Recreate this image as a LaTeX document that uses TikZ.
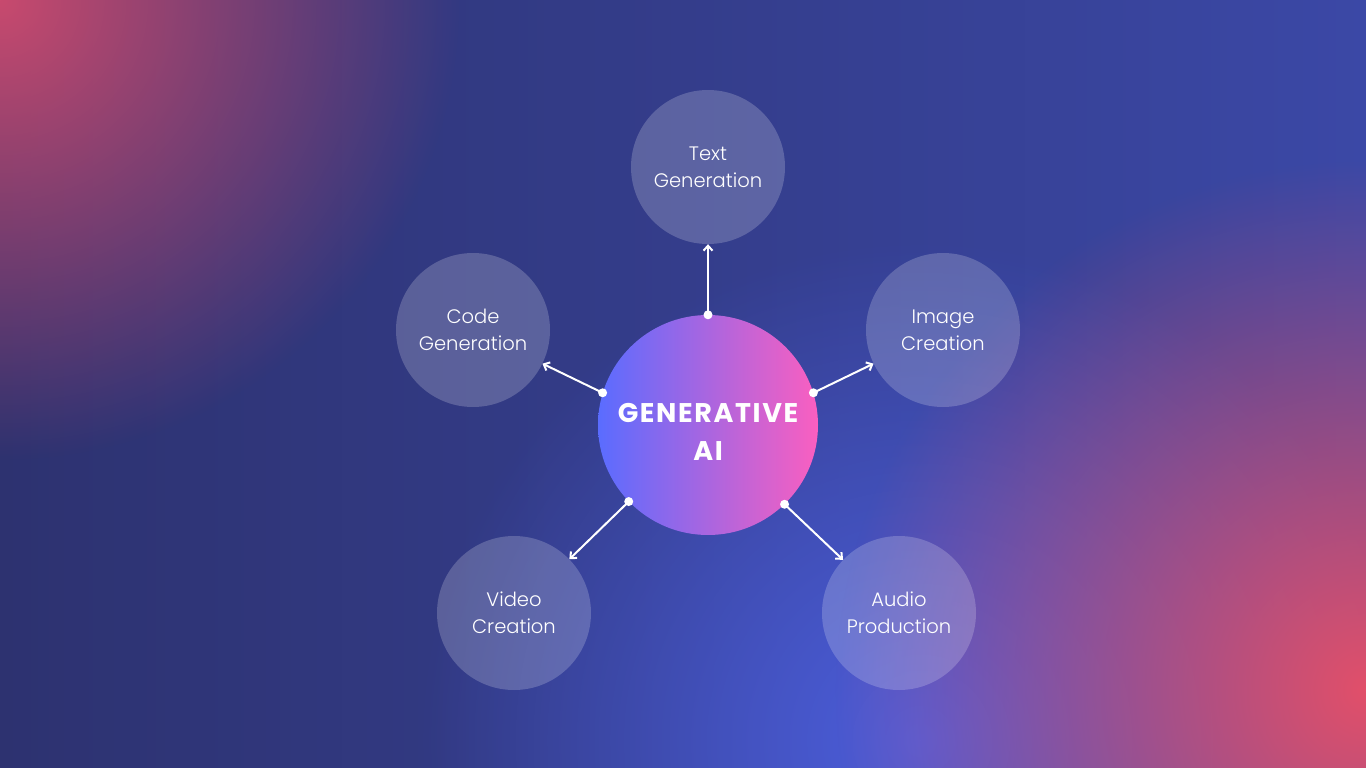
\documentclass[tikz,border=0pt]{standalone}
\usepackage{fontspec}
\setmainfont{Poppins}[UprightFont=* Light, BoldFont=* Bold]
\newfontfamily\titlefont{Poppins}[UprightFont=* Bold, LetterSpace=6]
\usetikzlibrary{arrows.meta,fadings}
\tikzfading[name=blobfade, inner color=transparent!0, outer color=transparent!100]
\definecolor{navy}{HTML}{2D3270}
\definecolor{bgright}{HTML}{3B48A6}
\definecolor{glowblue}{HTML}{4C5EDC}
\definecolor{pinkR}{HTML}{E2506A}
\definecolor{pinkL}{HTML}{C84A6E}
\definecolor{hubL}{HTML}{5A6CFF}
\definecolor{hubR}{HTML}{FA5FC0}
\begin{document}
\begin{tikzpicture}[x=1pt,y=-1pt,
  bubble/.style={circle, fill=white, fill opacity=0.2, text opacity=1, minimum size=154pt, inner sep=0pt, text=white, align=center, font=\fontsize{19.5}{27}\selectfont},
  hub/.style={circle, minimum size=220pt, inner sep=0pt, left color=hubL, right color=hubR},
  hubtext/.style={text=white, align=center, inner sep=0pt, font=\titlefont\fontsize{27}{38}\selectfont},
  link/.style={white, line width=2pt, line cap=round, -{Straight Barb[length=5pt,width=9pt]}},
  dot/.style={circle, fill=white, inner sep=0pt, minimum size=9pt}]
\useasboundingbox (0,0) rectangle (1366,768);
\begin{scope}
\clip (0,0) rectangle (1366,768);
\shade[left color=navy, right color=bgright] (0,0) rectangle (1366,768);
\fill[glowblue, path fading=blobfade] (920,740) circle (500);
\fill[pinkR, path fading=blobfade] (1366,690) circle (530);
\fill[pinkL, path fading=blobfade] (0,0) circle (460);
\end{scope}
\node[hub] (gen) at (708,425) {};
\node[hubtext] (gentext) at (708,432) {GENERATIVE\\AI};
\node[bubble] (text) at (708,167) {Text\\Generation};
\node[bubble] (code) at (473,330) {Code\\Generation};
\node[bubble] (image) at (943,330) {Image\\Creation};
\node[bubble] (video) at (514,613) {Video\\Creation};
\node[bubble] (audio) at (899,613) {Audio\\Production};
\node[dot] (d1) at (gen.north) {};
\node[dot] (d2) at (gen.163) {};
\node[dot] (d3) at (gen.17) {};
\node[dot] (d4) at (gen.224) {};
\node[dot] (d5) at (gen.314) {};
\draw[link] (d1.center) -- (text);
\draw[link] (d2.center) -- (code);
\draw[link] (d3.center) -- (image);
\draw[link] (d4.center) -- (video);
\draw[link] (d5.center) -- (audio);
\end{tikzpicture}
\end{document}
